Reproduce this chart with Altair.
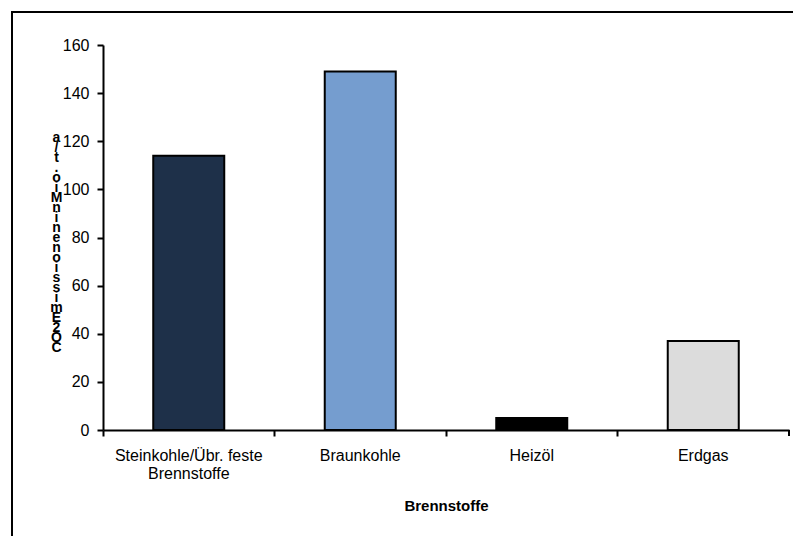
import altair as alt
import pandas as pd

# CO2 emissions by fuel type (Mio. t/a)
categories = ["Steinkohle/Übr. feste\nBrennstoffe", "Braunkohle", "Heizöl", "Erdgas"]
emissions = [114, 149, 5, 37]
bar_colors = ["#1E3049", "#759DCF", "#000000", "#DCDCDC"]
y_ticks = [0, 20, 40, 60, 80, 100, 120, 140, 160]

y_title = "CO2 Emissionen in Mio. t/a"
# stacked characters, read bottom to top
y_title_lines = list(reversed(list(y_title)))

W, H = 686, 385
FONT = "Liberation Sans"

df = pd.DataFrame({"Brennstoff": categories, "Emission": emissions})

bars = alt.Chart(df).mark_bar(
    stroke="black", strokeWidth=2, width=alt.RelativeBandSize(0.414)
).encode(
    x=alt.X(
        "Brennstoff:N",
        sort=categories,
        scale=alt.Scale(paddingInner=0, paddingOuter=0),
        axis=alt.Axis(
            title="Brennstoffe",
            labelAngle=0,
            bandPosition=0,
            labelExpr="split(datum.label, '\\n')",
            labelPadding=11,
            labelLineHeight=18,
            titlePadding=17,
        ),
    ),
    y=alt.Y(
        "Emission:Q",
        scale=alt.Scale(domain=[0, 160], nice=False),
        axis=alt.Axis(
            values=y_ticks,
            grid=False,
            title=y_title_lines,
            titleAngle=0,
            titleAlign="center",
            titleBaseline="top",
            titleX=-47,
            titleY=85,
            titleLineHeight=10.0,
            titleFontSize=14,
            labelPadding=8,
        ),
    ),
    color=alt.Color(
        "Brennstoff:N",
        sort=categories,
        scale=alt.Scale(domain=categories, range=bar_colors),
        legend=None,
    ),
)

# closing tick at the right end of the category axis
end_tick = alt.Chart(df).mark_rule(color="black", strokeWidth=2).encode(
    x=alt.value(W), y=alt.value(H), y2=alt.value(H + 6)
)

# outer frame of the chart
frame = alt.Chart(df).mark_rect(
    fill=None, stroke="black", strokeWidth=2, clip=False
).encode(
    x=alt.value(12 - 103), x2=alt.value(W + 40),
    y=alt.value(12 - 45), y2=alt.value(H + 140),
)

chart = alt.layer(frame, bars, end_tick).properties(
    width=W,
    height=H,
    autosize=alt.AutoSizeParams(type="none"),
    padding={"left": 103, "top": 45, "right": 4, "bottom": 106},
).configure_view(stroke=None).configure_axis(
    domainColor="black",
    domainWidth=2,
    tickColor="black",
    tickWidth=2,
    tickSize=6,
    labelColor="black",
    labelFont=FONT,
    labelFontSize=16,
    titleFont=FONT,
    titleFontSize=15,
    titleFontWeight="bold",
    titleColor="black",
)

chart.save("out.html", embed_options={"renderer": "svg", "actions": False})
